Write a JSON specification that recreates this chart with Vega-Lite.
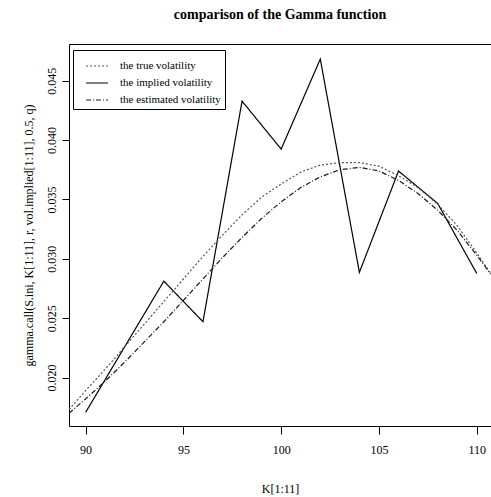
{
  "$schema": "https://vega.github.io/schema/vega-lite/v6.json",
  "width": 422,
  "height": 382,
  "autosize": {"type": "none"},
  "padding": {"left": 69, "top": 44, "right": 0, "bottom": 71},
  "background": "white",
  "title": {
    "text": "comparison of the Gamma function",
    "font": "Liberation Serif",
    "fontSize": 14,
    "fontWeight": "bold",
    "color": "black",
    "anchor": "middle",
    "baseline": "alphabetic",
    "offset": 11
  },
  "config": {
    "view": {"stroke": "black", "strokeWidth": 1},
    "axis": {
      "labelFont": "Liberation Serif",
      "titleFont": "Liberation Serif",
      "labelFontSize": 12,
      "titleFontSize": 12,
      "titleFontWeight": "normal",
      "labelColor": "black",
      "titleColor": "black",
      "tickColor": "black",
      "grid": false,
      "domain": false
    }
  },
  "data": {
    "values": [
      {"K": 90, "v": 0.01707, "series": "the implied volatility"},
      {"K": 92, "v": 0.0226, "series": "the implied volatility"},
      {"K": 94, "v": 0.02812, "series": "the implied volatility"},
      {"K": 96, "v": 0.0247, "series": "the implied volatility"},
      {"K": 98, "v": 0.04328, "series": "the implied volatility"},
      {"K": 100, "v": 0.03924, "series": "the implied volatility"},
      {"K": 102, "v": 0.04682, "series": "the implied volatility"},
      {"K": 104, "v": 0.02886, "series": "the implied volatility"},
      {"K": 106, "v": 0.03739, "series": "the implied volatility"},
      {"K": 108, "v": 0.03467, "series": "the implied volatility"},
      {"K": 110, "v": 0.02877, "series": "the implied volatility"},

      {"K": 89.15, "v": 0.0173, "series": "the true volatility"},
      {"K": 90, "v": 0.0189, "series": "the true volatility"},
      {"K": 91, "v": 0.0207, "series": "the true volatility"},
      {"K": 92, "v": 0.0226, "series": "the true volatility"},
      {"K": 93, "v": 0.0245, "series": "the true volatility"},
      {"K": 94, "v": 0.0264, "series": "the true volatility"},
      {"K": 95, "v": 0.0283, "series": "the true volatility"},
      {"K": 96, "v": 0.0302, "series": "the true volatility"},
      {"K": 97, "v": 0.032, "series": "the true volatility"},
      {"K": 98, "v": 0.0337, "series": "the true volatility"},
      {"K": 99, "v": 0.0352, "series": "the true volatility"},
      {"K": 100, "v": 0.0363, "series": "the true volatility"},
      {"K": 101, "v": 0.0373, "series": "the true volatility"},
      {"K": 102, "v": 0.0379, "series": "the true volatility"},
      {"K": 103, "v": 0.0381, "series": "the true volatility"},
      {"K": 104, "v": 0.0381, "series": "the true volatility"},
      {"K": 105, "v": 0.0378, "series": "the true volatility"},
      {"K": 106, "v": 0.037, "series": "the true volatility"},
      {"K": 107, "v": 0.036, "series": "the true volatility"},
      {"K": 108, "v": 0.0346, "series": "the true volatility"},
      {"K": 109, "v": 0.0328, "series": "the true volatility"},
      {"K": 110, "v": 0.0305, "series": "the true volatility"},
      {"K": 110.73, "v": 0.0287, "series": "the true volatility"},

      {"K": 89.15, "v": 0.017, "series": "the estimated volatility"},
      {"K": 90, "v": 0.0182, "series": "the estimated volatility"},
      {"K": 91, "v": 0.0197, "series": "the estimated volatility"},
      {"K": 92, "v": 0.0213, "series": "the estimated volatility"},
      {"K": 93, "v": 0.023, "series": "the estimated volatility"},
      {"K": 94, "v": 0.0247, "series": "the estimated volatility"},
      {"K": 95, "v": 0.0265, "series": "the estimated volatility"},
      {"K": 96, "v": 0.0283, "series": "the estimated volatility"},
      {"K": 97, "v": 0.0301, "series": "the estimated volatility"},
      {"K": 98, "v": 0.0318, "series": "the estimated volatility"},
      {"K": 99, "v": 0.0334, "series": "the estimated volatility"},
      {"K": 100, "v": 0.0348, "series": "the estimated volatility"},
      {"K": 101, "v": 0.036, "series": "the estimated volatility"},
      {"K": 102, "v": 0.0369, "series": "the estimated volatility"},
      {"K": 103, "v": 0.0375, "series": "the estimated volatility"},
      {"K": 104, "v": 0.0377, "series": "the estimated volatility"},
      {"K": 105, "v": 0.0374, "series": "the estimated volatility"},
      {"K": 106, "v": 0.0366, "series": "the estimated volatility"},
      {"K": 107, "v": 0.0355, "series": "the estimated volatility"},
      {"K": 108, "v": 0.0341, "series": "the estimated volatility"},
      {"K": 109, "v": 0.0324, "series": "the estimated volatility"},
      {"K": 110, "v": 0.0303, "series": "the estimated volatility"},
      {"K": 110.73, "v": 0.0287, "series": "the estimated volatility"}
    ]
  },
  "mark": {"type": "line", "clip": true, "strokeWidth": 1.2},
  "encoding": {
    "x": {
      "field": "K",
      "type": "quantitative",
      "scale": {"domain": [89.15, 110.73], "nice": false, "zero": false},
      "axis": {
        "title": "K[1:11]",
        "values": [90, 95, 100, 105, 110],
        "tickSize": 8,
        "labelPadding": 10,
        "titlePadding": 28
      }
    },
    "y": {
      "field": "v",
      "type": "quantitative",
      "scale": {"domain": [0.01592, 0.04809], "nice": false, "zero": false},
      "axis": {
        "title": "gamma.call(S.ini, K[1:11], r, vol.implied[1:11], 0.5, q)",
        "values": [0.02, 0.025, 0.03, 0.035, 0.04, 0.045],
        "format": ".3f",
        "tickSize": 7,
        "labelAngle": -90,
        "labelAlign": "center",
        "labelBaseline": "bottom",
        "labelPadding": 4,
        "titlePadding": 10
      }
    },
    "color": {
      "field": "series",
      "type": "nominal",
      "scale": {
        "domain": ["the true volatility", "the implied volatility", "the estimated volatility"],
        "range": ["#555555", "#000000", "#1a1a1a"]
      },
      "legend": {
        "title": null,
        "orient": "none",
        "legendX": 4,
        "legendY": 6,
        "strokeColor": "black",
        "fillColor": "white",
        "padding": 4,
        "symbolType": "stroke",
        "symbolSize": 480,
        "symbolOffset": 8,
        "symbolStrokeWidth": 1.2,
        "labelFont": "Liberation Serif",
        "labelFontSize": 11,
        "labelColor": "black",
        "rowPadding": -7,
        "labelOffset": 11
      }
    },
    "strokeDash": {
      "field": "series",
      "type": "nominal",
      "scale": {
        "domain": ["the true volatility", "the implied volatility", "the estimated volatility"],
        "range": [[2, 2], [1, 0], [5, 2, 1, 2]]
      },
      "legend": {
        "title": null,
        "orient": "none",
        "legendX": 4,
        "legendY": 6,
        "strokeColor": "black",
        "fillColor": "white",
        "padding": 4,
        "symbolType": "stroke",
        "symbolSize": 480,
        "symbolOffset": 8,
        "symbolStrokeWidth": 1.2,
        "labelFont": "Liberation Serif",
        "labelFontSize": 11,
        "labelColor": "black",
        "rowPadding": -7,
        "labelOffset": 11
      }
    }
  }
}
